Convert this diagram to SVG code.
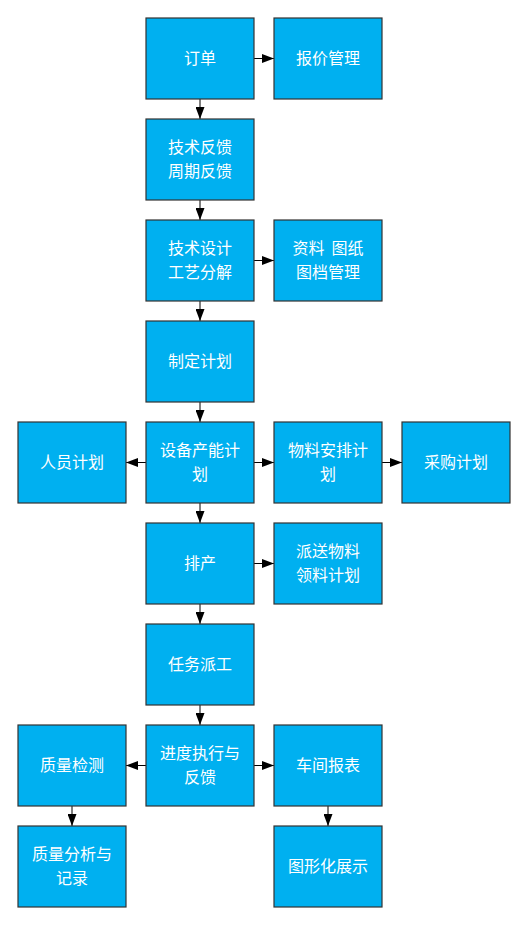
<svg xmlns="http://www.w3.org/2000/svg" width="528" height="925" viewBox="0 0 528 925">
<style>
.b{fill:#00b0f0;stroke:#333;stroke-width:1.2}
.t{fill:#fff;font-family:"Noto Sans CJK SC","Noto Sans",sans-serif;font-size:16px;text-anchor:middle;dominant-baseline:central}
.c{stroke:#000;stroke-width:1;fill:none;marker-end:url(#a)}
</style>
<defs>
<marker id="a" viewBox="0 0 12 9" refX="12" refY="4.5" markerWidth="12" markerHeight="9" markerUnits="userSpaceOnUse" orient="auto">
<path d="M0,0L12,4.5L0,9z" fill="#000"/>
</marker>
</defs>
<rect width="528" height="925" fill="#fff"/>
<g id="connectors">
<path class="c" d="M200,99V119"/>
<path class="c" d="M254,58.5H274"/>
<path class="c" d="M200,200V220"/>
<path class="c" d="M254,260.5H274"/>
<path class="c" d="M200,301V321"/>
<path class="c" d="M200,402V422"/>
<path class="c" d="M146,462.5H126"/>
<path class="c" d="M254,462.5H274"/>
<path class="c" d="M382,462.5H402"/>
<path class="c" d="M200,503V523"/>
<path class="c" d="M254,563.5H274"/>
<path class="c" d="M200,604V624"/>
<path class="c" d="M200,705V725"/>
<path class="c" d="M146,765.5H126"/>
<path class="c" d="M254,765.5H274"/>
<path class="c" d="M72,806V826"/>
<path class="c" d="M328,806V826"/>
</g>
<g id="n1"><rect class="b" x="146" y="18" width="108" height="81"/><text class="t" x="200" y="56.5">订单</text></g>
<g id="n2"><rect class="b" x="274" y="18" width="108" height="81"/><text class="t" x="328" y="56.5">报价管理</text></g>
<g id="n3"><rect class="b" x="146" y="119" width="108" height="81"/><text class="t" x="200" y="145.5">技术反馈</text><text class="t" x="200" y="169.5">周期反馈</text></g>
<g id="n4"><rect class="b" x="146" y="220" width="108" height="81"/><text class="t" x="200" y="246.5">技术设计</text><text class="t" x="200" y="270.5">工艺分解</text></g>
<g id="n5"><rect class="b" x="274" y="220" width="108" height="81"/><text class="t" x="328" y="246.5" xml:space="preserve">资料  图纸</text><text class="t" x="328" y="270.5">图档管理</text></g>
<g id="n6"><rect class="b" x="146" y="321" width="108" height="81"/><text class="t" x="200" y="359.5">制定计划</text></g>
<g id="n7"><rect class="b" x="18" y="422" width="108" height="81"/><text class="t" x="72" y="460.5">人员计划</text></g>
<g id="n8"><rect class="b" x="146" y="422" width="108" height="81"/><text class="t" x="200" y="448.5">设备产能计</text><text class="t" x="200" y="472.5">划</text></g>
<g id="n9"><rect class="b" x="274" y="422" width="108" height="81"/><text class="t" x="328" y="448.5">物料安排计</text><text class="t" x="328" y="472.5">划</text></g>
<g id="n10"><rect class="b" x="402" y="422" width="108" height="81"/><text class="t" x="456" y="460.5">采购计划</text></g>
<g id="n11"><rect class="b" x="146" y="523" width="108" height="81"/><text class="t" x="200" y="561.5">排产</text></g>
<g id="n12"><rect class="b" x="274" y="523" width="108" height="81"/><text class="t" x="328" y="549.5">派送物料</text><text class="t" x="328" y="573.5">领料计划</text></g>
<g id="n13"><rect class="b" x="146" y="624" width="108" height="81"/><text class="t" x="200" y="662.5">任务派工</text></g>
<g id="n14"><rect class="b" x="18" y="725" width="108" height="81"/><text class="t" x="72" y="763.5">质量检测</text></g>
<g id="n15"><rect class="b" x="146" y="725" width="108" height="81"/><text class="t" x="200" y="751.5">进度执行与</text><text class="t" x="200" y="775.5">反馈</text></g>
<g id="n16"><rect class="b" x="274" y="725" width="108" height="81"/><text class="t" x="328" y="763.5">车间报表</text></g>
<g id="n17"><rect class="b" x="18" y="826" width="108" height="81"/><text class="t" x="72" y="852.5">质量分析与</text><text class="t" x="72" y="876.5">记录</text></g>
<g id="n18"><rect class="b" x="274" y="826" width="108" height="81"/><text class="t" x="328" y="864.5">图形化展示</text></g>
</svg>
